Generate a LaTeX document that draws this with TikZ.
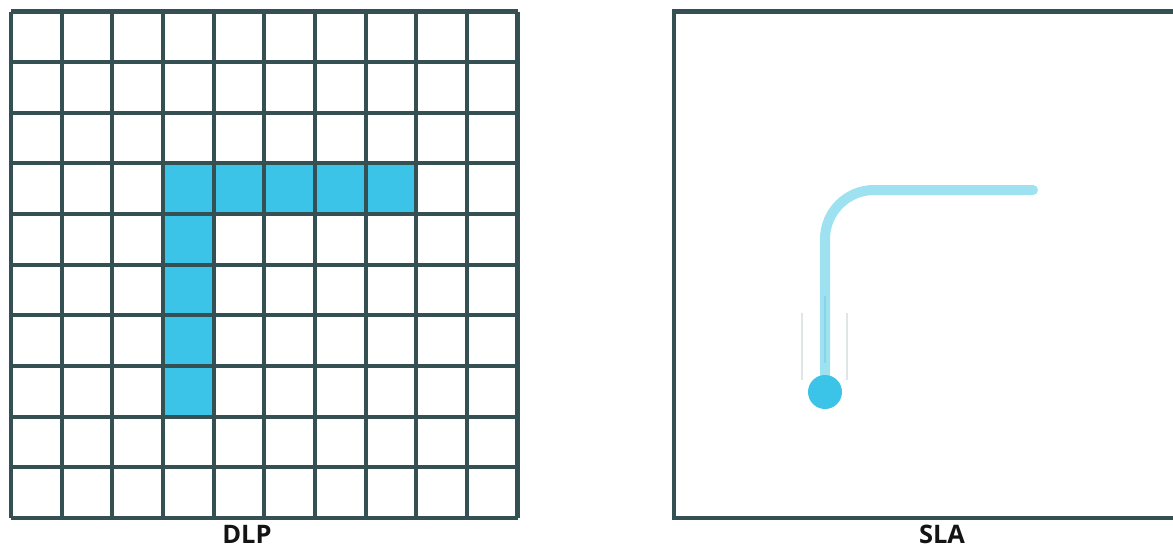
\documentclass[tikz,border=0pt]{standalone}
\usepackage{fontspec}
\setmainfont{Open Sans}
\usepackage{xcolor}
\definecolor{colGrid}{RGB}{52, 80, 82}
\definecolor{colResin}{RGB}{60, 196, 232}
\definecolor{colPath}{RGB}{158, 226, 242}
\definecolor{colStreak}{RGB}{222, 230, 230}
\definecolor{colStreakIn}{RGB}{135, 212, 235}
\definecolor{darkText}{RGB}{20, 20, 20}

\begin{document}
\begin{tikzpicture}[x=0.02cm, y=-0.02cm, line join=miter]

  % Page frame (pixel units, y downwards)
  \useasboundingbox (0,0) rectangle (1173,549);

  \tikzset{
    gridline/.style={draw=colGrid, line width=2.3pt},
    pixel/.style={fill=colResin},
    caption/.style={font=\bfseries\fontsize{14.5}{16}\selectfont, text=darkText,
      anchor=base, inner sep=0pt},
    streak/.style={draw=colStreak, line width=0.6pt}
  }

  % Grid: 10 x 10 cells, origin (11,11.5), pitch 50.65
  \def\gx{11}
  \def\gy{11.5}
  \def\pitch{50.65}

  % --- DLP: cured pixels ---
  \foreach \c in {3,...,7}
    \fill[pixel] (\gx+\c*\pitch, \gy+3*\pitch) rectangle ++(\pitch, \pitch);
  \foreach \r in {4,...,7}
    \fill[pixel] (\gx+3*\pitch, \gy+\r*\pitch) rectangle ++(\pitch, \pitch);

  % grid lines
  \foreach \i in {0,...,10} {
    \draw[gridline] (\gx+\i*\pitch, \gy) -- (\gx+\i*\pitch, \gy+10*\pitch);
    \draw[gridline] (\gx, \gy+\i*\pitch) -- (\gx+10*\pitch, \gy+\i*\pitch);
  }

  % --- SLA: vat outline (runs off the right edge) ---
  \draw[gridline] (1190,11.5) -- (674,11.5) -- (674,518) -- (1190,518);

  % laser trace
  \draw[colPath, line width=5.7pt, line cap=round, rounded corners=0.98cm]
    (825,392) -- (825,190) -- (1033,190);

  % motion streaks
  \draw[streak] (802,313) -- (802,380);
  \draw[streak] (847,313) -- (847,380);
  \draw[colStreakIn, line width=0.6pt] (825,296) -- (825,363);

  % laser spot
  \fill[colResin] (825,392) circle (0.34cm);

  % captions
  \node[caption] (dlp) at (247,543) {DLP};
  \node[caption] (sla) at (942,543) {SLA};

\end{tikzpicture}
\end{document}
